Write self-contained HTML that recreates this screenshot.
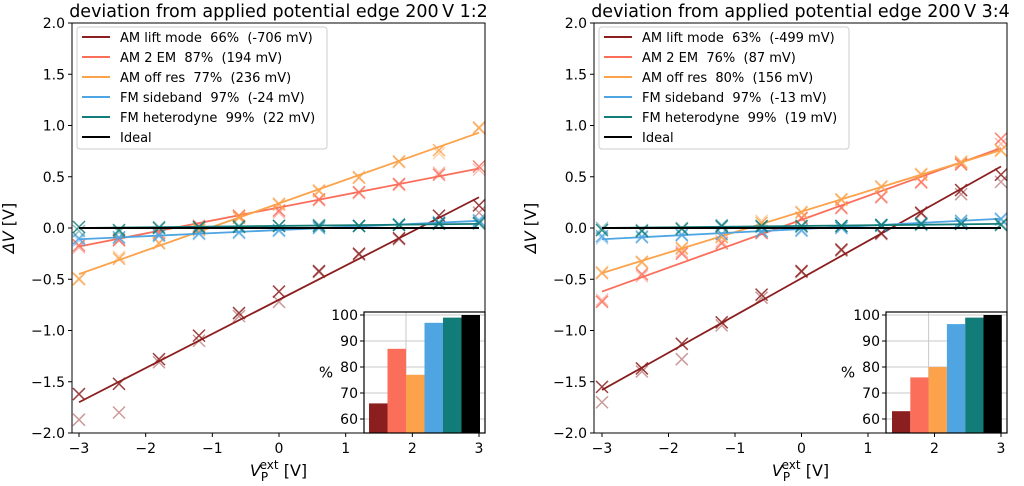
<!DOCTYPE html>
<html><head><meta charset="utf-8"><style>
html,body{margin:0;padding:0;background:#fff;}
svg{display:block;font-family:"DejaVu Sans","Liberation Sans",sans-serif;}
text{white-space:pre;}
</style></head><body>
<svg id="chart" width="1024" height="486" viewBox="0 0 1024 486" xmlns="http://www.w3.org/2000/svg"></svg>
<script>
const xs = [-3,-2.4,-1.8,-1.2,-0.6,0,0.6,1.2,1.8,2.4,3];
const seriesNames = ["AM lift mode","AM 2 EM","AM off res","FM sideband","FM heterodyne"];
const colors = ["#8b1e1e","#fa6e5a","#fba24b","#4ea5e2","#127d78","#000000"];
const yTicks = [-2.0,-1.5,-1.0,-0.5,0.0,0.5,1.0,1.5,2.0];
const xTicks = [-3,-2,-1,0,1,2,3];
const barTicks = [60,70,80,90,100];

// Left panel (1:2)
const leftTitle = "deviation from applied potential edge 200\u2009V 1:2";
const leftLegend = ["AM lift mode  66%  (-706 mV)","AM 2 EM  87%  (194 mV)","AM off res  77%  (236 mV)","FM sideband  97%  (-24 mV)","FM heterodyne  99%  (22 mV)","Ideal"];
const leftFitStart = [-1.70,-0.18,-0.45,-0.11,0.00];
const leftFitEnd = [0.30,0.58,0.93,0.07,0.04];
const leftA = [
 [-1.62,-1.52,-1.28,-1.05,-0.83,-0.62,-0.42,-0.25,-0.10,0.12,0.22],
 [-0.17,-0.12,-0.05,0.02,0.12,0.17,0.28,0.35,0.43,0.52,0.60],
 [-0.50,-0.30,-0.15,-0.02,0.10,0.23,0.36,0.49,0.65,0.76,0.98],
 [-0.10,-0.09,-0.07,-0.05,-0.04,-0.02,0.00,0.02,0.03,0.05,0.07],
 [0.01,-0.02,0.00,0.01,0.01,0.02,0.02,0.02,0.03,0.04,0.05]];
const leftB = [
 [-1.87,-1.80,-1.31,-1.10,-0.86,-0.72,-0.43,-0.26,-0.11,0.05,0.15],
 [-0.19,-0.11,-0.06,0.01,0.11,0.15,0.27,0.34,0.42,0.54,0.57],
 [-0.49,-0.28,-0.14,-0.01,0.12,0.24,0.37,0.50,0.64,0.73,0.97],
 [-0.12,-0.10,-0.08,-0.06,-0.05,-0.03,0.01,0.02,0.04,0.06,0.08],
 [-0.03,-0.04,0.01,0.00,0.02,0.02,0.03,0.02,0.03,0.05,0.04]];
const leftBars = [66,87,77,97,99,100];

// Right panel (3:4)
const rightTitle = "deviation from applied potential edge 200\u2009V 3:4";
const rightLegend = ["AM lift mode  63%  (-499 mV)","AM 2 EM  76%  (87 mV)","AM off res  80%  (156 mV)","FM sideband  97%  (-13 mV)","FM heterodyne  99%  (19 mV)","Ideal"];
const rightFitStart = [-1.58,-0.62,-0.44,-0.11,0.00];
const rightFitEnd = [0.60,0.78,0.76,0.09,0.04];
const rightA = [
 [-1.55,-1.37,-1.13,-0.92,-0.65,-0.42,-0.21,-0.05,0.15,0.37,0.52],
 [-0.72,-0.45,-0.25,-0.15,-0.05,0.10,0.20,0.30,0.45,0.62,0.87],
 [-0.44,-0.33,-0.20,-0.09,0.05,0.15,0.28,0.40,0.52,0.64,0.76],
 [-0.08,-0.09,-0.07,-0.06,-0.03,-0.02,0.00,0.02,0.04,0.07,0.09],
 [-0.02,-0.03,-0.01,0.02,0.02,0.02,0.02,0.03,0.04,0.04,0.03]];
const rightB = [
 [-1.70,-1.40,-1.28,-0.95,-0.68,-0.43,-0.22,-0.06,0.14,0.33,0.45],
 [-0.70,-0.47,-0.23,-0.13,-0.04,0.09,0.19,0.31,0.44,0.63,0.82],
 [-0.43,-0.34,-0.19,-0.08,0.07,0.16,0.27,0.41,0.53,0.65,0.75],
 [-0.10,-0.08,-0.06,0.03,-0.04,-0.03,0.01,0.03,0.05,0.06,0.08],
 [0.00,-0.02,0.00,0.01,0.01,0.01,0.02,0.03,0.03,0.04,0.04]];
const rightBars = [63,76,80,96.5,99,100];

const NS = "http://www.w3.org/2000/svg";
const svg = document.getElementById("chart");
function mk(tag, attrs, parent, text){
  const e = document.createElementNS(NS, tag);
  for (const k in attrs) e.setAttribute(k, attrs[k]);
  if (text !== undefined) e.textContent = text;
  (parent||svg).appendChild(e);
  return e;
}

function panel(cfg){
  const g = mk("g", {});
  
  
  const X = v => cfg.x0 + (v + 3) * (cfg.x1 - cfg.x0) / 6;
  const Y = v => 228 - v * 102.5;
  const L = cfg.fl, R = cfg.fr, T = 23, B = 433;
  const t = mk("text", {x:(L+R)/2, y:17, "text-anchor":"middle", "font-size":"17.5", fill:"#000"}, g, cfg.title);
  
  
  yTicks.forEach(v => {
    mk("line", {x1:L-4, x2:L, y1:Y(v), y2:Y(v), stroke:"#000", "stroke-width":1}, g);
    const tl = mk("text", {x:L-7, y:Y(v)+5, "text-anchor":"end", "font-size":"14"}, g, (v<0?"\u2212":"") + Math.abs(v).toFixed(1));
    
    
  });
  xTicks.forEach(v => {
    mk("line", {x1:X(v), x2:X(v), y1:B, y2:B+4, stroke:"#000", "stroke-width":1}, g);
    const tl = mk("text", {x:X(v), y:B+20, "text-anchor":"middle", "font-size":"14"}, g, (v<0?"\u2212":"") + Math.abs(v));
    
    
  });
  const yl = mk("text", {x:0, y:0, transform:`translate(${L-58},228) rotate(-90)`, "text-anchor":"middle", "font-size":"16"}, g);
  
  
  mk("tspan", {"font-style":"italic"}, yl, "\u0394V");
  mk("tspan", {}, yl, " [V]");
  const xl = mk("text", {x:(L+R)/2, y:476, "text-anchor":"middle", "font-size":"16"}, g);
  
  
  mk("tspan", {"font-style":"italic"}, xl, "V");
  mk("tspan", {"font-size":"12", dy:"5"}, xl, "P");
  mk("tspan", {"font-size":"12", dy:"-12", dx:"-8"}, xl, "ext");
  mk("tspan", {dy:"7"}, xl, " [V]");
  for (let s = 0; s < 5; s++){
    const sg = mk("g", {}, g);
    
    
    [cfg.b, cfg.a].forEach((arr, k) => {
      arr[s].forEach((v, i) => {
        const cx = X(xs[i]), cy = Y(v), d = 6;
        const p = mk("path", {d:`M${cx-d},${cy-d}L${cx+d},${cy+d}M${cx-d},${cy+d}L${cx+d},${cy-d}`, stroke:colors[s], "stroke-width":1.5, opacity:k?0.85:0.45, fill:"none"}, sg);
        
        
      });
    });
    const fl = mk("line", {x1:X(-3), x2:X(3), y1:Y(cfg.fs[s]), y2:Y(cfg.fe[s]), stroke:colors[s], "stroke-width":1.8}, sg);
    
    
  }
  const il = mk("line", {x1:X(-3), x2:X(3), y1:Y(0), y2:Y(0), stroke:"#000", "stroke-width":2}, g);
  
  
  const fr = mk("rect", {x:L, y:T, width:R-L, height:B-T, fill:"none", stroke:"#000", "stroke-width":1}, g);
  
  
  const lg = mk("g", {}, g);
  
  
  mk("rect", {x:L+5, y:27, width:cfg.legW, height:122, rx:3, fill:"#fff", "fill-opacity":0.85, stroke:"#ccc"}, lg);
  cfg.legend.forEach((txt, i) => {
    const yy = 37 + i * 20;
    const le = mk("g", {}, lg);
    
    
    mk("line", {x1:L+10, x2:L+38, y1:yy, y2:yy, stroke:colors[i], "stroke-width":2}, le);
    mk("text", {x:L+48, y:yy+5, "font-size":"13"}, le, txt);
  });
  const ig = mk("g", {}, g);
  
  
  const iL = cfg.iL, iR = R, iT = 312, iB = B;
  const BY = v => 315 + (100 - v) * 2.6;
  mk("rect", {x:iL, y:iT, width:iR-iL, height:iB-iT, fill:"#fff"}, ig);
  barTicks.forEach(v => {
    mk("line", {x1:iL, x2:iR, y1:BY(v), y2:BY(v), stroke:"#c8c8c8", "stroke-width":1}, ig);
    mk("line", {x1:iL-4, x2:iL, y1:BY(v), y2:BY(v), stroke:"#000"}, ig);
    const bt = mk("text", {x:iL-6, y:BY(v)+5, "text-anchor":"end", "font-size":"14"}, ig, v);
    
    
  });
  const bw = cfg.bw, b0 = cfg.b0;
  mk("line", {x1:b0+2*bw, x2:b0+2*bw, y1:iT, y2:iB, stroke:"#c8c8c8"}, ig);
  cfg.bars.forEach((v, i) => {
    const r = mk("rect", {x:b0 + i*bw, y:BY(v), width:bw, height:iB-BY(v), fill:colors[i]}, ig);
    
    
  });
  mk("rect", {x:iL, y:iT, width:iR-iL, height:iB-iT, fill:"none", stroke:"#000", "stroke-width":1.2}, ig);
  const pl = mk("text", {x:iL-38, y:(iT+iB)/2+5, "text-anchor":"middle", "font-size":"15"}, ig, "%");
  
  
}

panel({id:"left", title:leftTitle, legend:leftLegend, x0:79, x1:479, fl:72, fr:485, legW:250,
  fs:leftFitStart, fe:leftFitEnd, a:leftA, b:leftB, bars:leftBars, iL:364, b0:369, bw:18.5});
panel({id:"right", title:rightTitle, legend:rightLegend, x0:602, x1:1001, fl:594, fr:1007, legW:250,
  fs:rightFitStart, fe:rightFitEnd, a:rightA, b:rightB, bars:rightBars, iL:886, b0:892, bw:18.3});
</script>
</body></html>
